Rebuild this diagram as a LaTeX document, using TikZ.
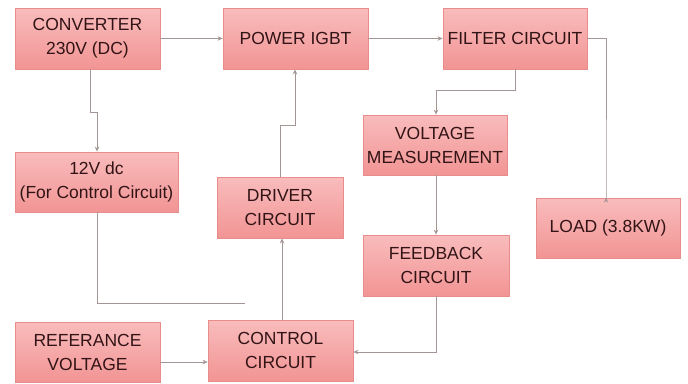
\documentclass[tikz,border=0pt]{standalone}
\usepackage{fontspec}
\setmainfont{Liberation Sans}
\usetikzlibrary{arrows.meta}
\definecolor{boxtop}{RGB}{249,188,188}
\definecolor{boxbot}{RGB}{242,148,148}
\definecolor{boxedge}{RGB}{232,140,140}
\definecolor{txt}{RGB}{50,20,22}
\definecolor{wire}{RGB}{165,150,150}
\tikzset{
  blk/.style={draw=boxedge, line width=0.8pt, top color=boxtop, bottom color=boxbot,
    text=txt, align=center, inner sep=0pt, minimum width=145pt, minimum height=61pt,
    font=\fontsize{17.5}{24}\selectfont},
  wireln/.style={draw=wire, line width=1pt},
  arr/.style={wireln, -{Stealth[length=5pt,width=4.5pt]}}
}
\begin{document}
\begin{tikzpicture}[x=1pt,y=-1pt]
\useasboundingbox (0,0) rectangle (688,383);
\fill[white] (0,0) rectangle (688,383);
\node[blk] (conv) at (87.5,38.5) {CONVERTER\\230V (DC)};
\node[blk] (igbt) at (295.5,38.5) {POWER IGBT};
\node[blk, minimum width=144pt] (filt) at (515,38.5) {FILTER CIRCUIT};
\node[blk, minimum width=144pt, minimum height=60pt] (load) at (608,228) {LOAD (3.8KW)};
\node[blk, minimum width=144pt, minimum height=60pt] (vm) at (435,145) {VOLTAGE\\MEASUREMENT};
\node[blk, minimum width=146pt] (fb) at (436,265.5) {FEEDBACK\\CIRCUIT};
\node[blk] (ctrl) at (280.5,350.5) {CONTROL\\CIRCUIT};
\node[blk, minimum height=60pt] (ref) at (87.5,352) {REFERANCE\\VOLTAGE};
\node[blk, minimum width=163pt, minimum height=60pt] (v12) at (96.5,182) {12V dc\\(For Control Circuit)};
\node[blk, minimum width=126pt] (drv) at (280,207.5) {DRIVER\\CIRCUIT};
\coordinate (free) at (245,303);
% connectors
\draw[arr] (conv.east) -- (igbt.west);
\draw[arr] (igbt.east) -- (filt.west);
\draw[arr] (filt.east) -- (606,38.5) -- (606,198) -- (load.north -| 606,0);
\draw[arr] (filt.south -| 515,0) -- (515,90) -- (436,90) -- (vm.north -| 436,0);
\draw[arr] (vm.south -| 436,0) -- (fb.north -| 436,0);
\draw[arr] (fb.south -| 436,0) -- (436,352) -- (ctrl.east |- 0,352);
\draw[arr] (ref.east |- 0,362) -- (ctrl.west |- 0,362);
\draw[arr] (ctrl.north -| 282,0) -- (drv.south -| 282,0);
\draw[arr] (drv.north -| 280,0) -- (280,125) -- (295,125) -- (igbt.south -| 295,0);
\draw[arr] (conv.south -| 90,0) -- (90,112) -- (97,112) -- (v12.north -| 97,0);
\draw[wireln] (v12.south -| 97,0) -- (97,303) -- (free);
\end{tikzpicture}
\end{document}
